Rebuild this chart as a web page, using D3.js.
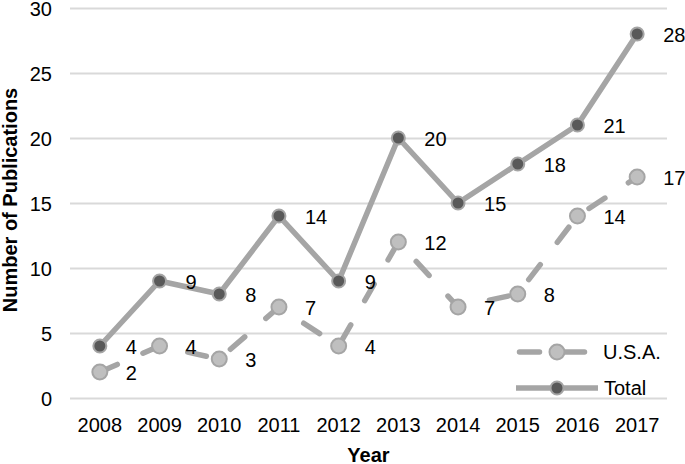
<!DOCTYPE html>
<html>
<head>
<meta charset="utf-8">
<script src="https://cdn.jsdelivr.net/npm/d3@7"></script>
<style>
  body { margin: 0; background: #fff; }
  svg { display: block; font-family: "Liberation Sans", Arial, sans-serif; }
  .axis text { font-size: 20px; fill: #000; }
  .axis .domain { display: none; }
  .grid line { stroke: #d9d9d9; stroke-width: 2; }
  .axis-label { font-size: 20px; font-weight: bold; fill: #000; }
  .data-label { font-size: 20px; fill: #000; }
  .legend text { font-size: 20px; fill: #000; }
</style>
</head>
<body>
<svg></svg>
<script>
// values
const years = [2008, 2009, 2010, 2011, 2012, 2013, 2014, 2015, 2016, 2017];
const usaValues = [2, 4, 3, 7, 4, 12, 7, 8, 14, 17];
const totalValues = [4, 9, 8, 14, 9, 20, 15, 18, 21, 28];
const yTicks = [0, 5, 10, 15, 20, 25, 30];
const seriesNames = ["U.S.A.", "Total"];

const width = 685, height = 464;
const margin = { top: 8, right: 18, bottom: 66, left: 70 };

const lineColor = "#a5a5a5";

const svg = d3.select("svg")
  .attr("width", width)
  .attr("height", height);

const x = d3.scaleBand()
  .domain(years)
  .range([margin.left, width - margin.right])
  .padding(0);

const y = d3.scaleLinear()
  .domain([0, 30])
  .range([height - margin.bottom, margin.top]);

const cx = d => x(d) + x.bandwidth() / 2;

// Gridlines + Y axis
svg.append("g")
  .attr("class", "axis grid")
  .attr("transform", `translate(${margin.left},0)`)
  .call(d3.axisLeft(y)
    .tickValues(yTicks)
    .tickSize(-(width - margin.left - margin.right))
    .tickPadding(18))
  .selectAll("text")
  .attr("dy", "0.35em");

// X axis
svg.append("g")
  .attr("class", "axis")
  .attr("transform", `translate(0,${height - margin.bottom})`)
  .call(d3.axisBottom(x).tickSize(0).tickPadding(20));

// series
const usa = years.map((yr, i) => ({ year: yr, value: usaValues[i] }));
const total = years.map((yr, i) => ({ year: yr, value: totalValues[i] }));

const line = d3.line()
  .x(d => cx(d.year))
  .y(d => y(d.value));

// U.S.A. dashed line
svg.append("path")
  .datum(usa)
  .attr("fill", "none")
  .attr("stroke", lineColor)
  .attr("stroke-width", 5.5)
  .attr("stroke-linecap", "round")
  .attr("stroke-linejoin", "round")
  .attr("stroke-dasharray", "19,28")
  .attr("d", line);

// Total solid line
svg.append("path")
  .datum(total)
  .attr("fill", "none")
  .attr("stroke", lineColor)
  .attr("stroke-width", 5.5)
  .attr("stroke-linejoin", "round")
  .attr("d", line);

// markers
svg.selectAll(".usa-dot")
  .data(usa)
  .enter()
  .append("circle")
  .attr("class", "usa-dot")
  .attr("cx", d => cx(d.year))
  .attr("cy", d => y(d.value))
  .attr("r", 7.5)
  .attr("fill", "#bfbfbf")
  .attr("stroke", lineColor)
  .attr("stroke-width", 2);

svg.selectAll(".total-dot")
  .data(total)
  .enter()
  .append("circle")
  .attr("class", "total-dot")
  .attr("cx", d => cx(d.year))
  .attr("cy", d => y(d.value))
  .attr("r", 6.5)
  .attr("fill", "#595959")
  .attr("stroke", lineColor)
  .attr("stroke-width", 2);

// data labels
svg.selectAll(".data-label")
  .data(usa.concat(total))
  .enter()
  .append("text")
  .attr("class", "data-label")
  .attr("x", d => cx(d.year) + 26)
  .attr("y", d => y(d.value))
  .attr("dy", "0.4em")
  .text(d => d.value);

// Legend
const legend = svg.append("g").attr("class", "legend");

const lg1 = legend.append("g").attr("transform", "translate(0,352)");
lg1.append("line")
  .attr("x1", 519.5).attr("x2", 590).attr("y1", 0).attr("y2", 0)
  .attr("stroke", lineColor).attr("stroke-width", 5.5)
  .attr("stroke-linecap", "round").attr("stroke-dasharray", "20,25");
lg1.append("circle")
  .attr("cx", 557).attr("cy", 0).attr("r", 7.5)
  .attr("fill", "#bfbfbf").attr("stroke", lineColor).attr("stroke-width", 2);
lg1.append("text").attr("x", 603).attr("y", 0).attr("dy", "0.36em").text(seriesNames[0]);

const lg2 = legend.append("g").attr("transform", "translate(0,388)");
lg2.append("line")
  .attr("x1", 516).attr("x2", 598).attr("y1", 0).attr("y2", 0)
  .attr("stroke", lineColor).attr("stroke-width", 5.5);
lg2.append("circle")
  .attr("cx", 557).attr("cy", 0).attr("r", 6.5)
  .attr("fill", "#595959").attr("stroke", lineColor).attr("stroke-width", 2);
lg2.append("text").attr("x", 604).attr("y", 0).attr("dy", "0.36em").text(seriesNames[1]);

// Y-axis Label
svg.append("text")
  .attr("class", "axis-label")
  .attr("transform", "rotate(-90)")
  .attr("x", -200)
  .attr("y", 17)
  .style("text-anchor", "middle")
  .text("Number of Publications");

// X-axis Label
svg.append("text")
  .attr("class", "axis-label")
  .attr("x", (margin.left + width - margin.right) / 2)
  .attr("y", 462)
  .style("text-anchor", "middle")
  .text("Year");
</script>
</body>
</html>
